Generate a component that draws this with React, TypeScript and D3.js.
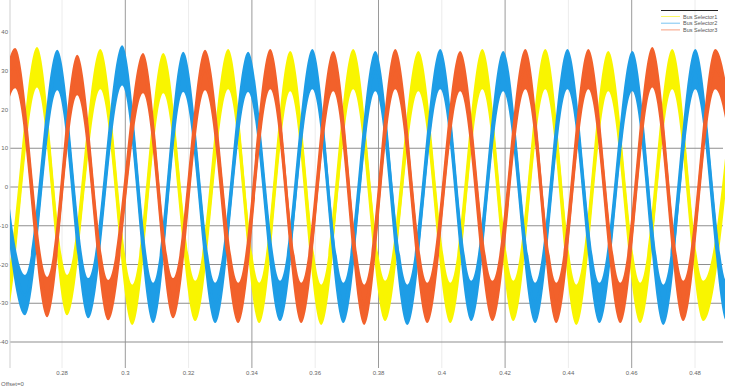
import React from "react";
import * as d3 from "d3";

const seriesNames = ["Bus Selector1", "Bus Selector2", "Bus Selector3"];
const seriesColors = ["#f9f500", "#1e9de6", "#f2612b"];

// alternating crest / trough times (s) and centre values
const yellowTimes = [0.2522, 0.2617, 0.2721, 0.2816, 0.2921, 0.3022, 0.312, 0.3221, 0.3325, 0.3423, 0.3521, 0.3619, 0.372, 0.3821, 0.3926, 0.4027, 0.4128, 0.4226, 0.4327, 0.4425, 0.4526, 0.4627, 0.4728, 0.4826, 0.4928];
const yellowValues = [30.4, -29.9, 30.9, -27.9, 30.4, -30.4, 29.4, -29.4, 30.4, -29.9, 29.9, -30.4, 30.4, -29.4, 29.9, -29.9, 30.4, -29.4, 30.4, -30.4, 29.9, -29.9, 30.4, -29.4, 30.4];
const blueTimes = [0.2585, 0.2683, 0.2785, 0.2883, 0.299, 0.3088, 0.3183, 0.3284, 0.3388, 0.3489, 0.3591, 0.3689, 0.379, 0.3891, 0.3995, 0.4093, 0.4194, 0.4295, 0.4397, 0.4498, 0.4602, 0.47, 0.4801, 0.4902, 0.5];
const blueValues = [30.4, -27.9, 30.2, -28.7, 31.4, -29.9, 29.7, -29.9, 29.7, -29.4, 30.4, -29.9, 29.9, -30.4, 30.4, -29.4, 29.9, -29.9, 30.4, -29.9, 29.9, -30.4, 30.4, -29.9, 30.4];
const orangeTimes = [0.2551, 0.2652, 0.2753, 0.2848, 0.2946, 0.3056, 0.3151, 0.3252, 0.3357, 0.3458, 0.3556, 0.3657, 0.3755, 0.3853, 0.3954, 0.4058, 0.416, 0.4264, 0.4362, 0.4463, 0.4564, 0.4665, 0.4763, 0.4864, 0.4966];
const orangeValues = [-29.9, 30.7, -28.4, 28.9, -29.2, 29.4, -28.7, 30.2, -29.9, 30.4, -29.9, 29.9, -30.4, 30.4, -29.9, 29.9, -29.4, 30.4, -29.9, 30.4, -29.9, 30.9, -29.4, 30.4, -29.9];
const rippleHalf = 5.2;

const yTicks = [40, 30, 20, 10, 0, -10, -20, -30, -40];
const yGridTicks = [10, 0, -10, -20, -30, -40];
const xTicks = [0.28, 0.3, 0.32, 0.34, 0.36, 0.38, 0.4, 0.42, 0.44, 0.46, 0.48];
const xMajorTicks = [0.3, 0.34, 0.38, 0.42, 0.46];
const xTickLabels = ["0.28", "0.3", "0.32", "0.34", "0.36", "0.38", "0.4", "0.42", "0.44", "0.46", "0.48"];

const W = 731;
const H = 389;
const left = 10;
const right = 725;
const top = 0;
const bottom = 368;

export default function App() {
  const x = d3.scaleLinear().domain([0.28, 0.48]).range([62, 695]);
  const y = d3.scaleLinear().domain([-40, 40]).range([342, 32]);

  const series = [
    { t: yellowTimes, v: yellowValues },
    { t: blueTimes, v: blueValues },
    { t: orangeTimes, v: orangeValues },
  ].map((s, i) => ({
    name: seriesNames[i],
    color: seriesColors[i],
    pts: s.t.map((t, k) => ({ t, v: s.v[k] })),
  }));

  const band = d3
    .area<{ t: number; v: number }>()
    .x((d) => x(d.t))
    .y0((d) => y(d.v - rippleHalf))
    .y1((d) => y(d.v + rippleHalf))
    .curve(d3.curveMonotoneX);
  const line = d3
    .line<{ t: number; v: number }>()
    .x((d) => x(d.t))
    .y((d) => y(d.v))
    .curve(d3.curveMonotoneX);

  const font = "Liberation Sans, Arial, sans-serif";

  return (
    <svg width={W} height={H} style={{ position: "absolute", left: 0, top: 0, background: "#fff" }}>
      <defs>
        <clipPath id="plot">
          <rect x={left} y={top} width={right - left} height={bottom - top} />
        </clipPath>
      </defs>
      {xTicks.filter((t) => !xMajorTicks.includes(t)).map((t) => (
        <line key={"m" + t} x1={x(t)} x2={x(t)} y1={top} y2={bottom} stroke="#ececec" strokeWidth={1} />
      ))}
      {xMajorTicks.map((t) => (
        <line key={"M" + t} x1={x(t)} x2={x(t)} y1={top} y2={bottom} stroke="#9a9a9a" strokeWidth={1} />
      ))}
      {yGridTicks.map((v) => (
        <line key={"h" + v} x1={left} x2={right - 2} y1={y(v)} y2={y(v)} stroke="#8f8f8f" strokeWidth={1} />
      ))}
      <line x1={left} x2={left} y1={top} y2={bottom} stroke="#cfcfcf" strokeWidth={1} />

      <g clipPath="url(#plot)">
        {series.map((s) => (
          <g key={s.name}>
            <path d={band(s.pts) || ""} fill={s.color} />
            <path d={line(s.pts) || ""} fill="none" stroke={s.color} strokeWidth={2.6} />
          </g>
        ))}
      </g>

      {yTicks.map((v) => (
        <text key={"yl" + v} x={8} y={y(v) + 2} textAnchor="end" fontSize={6} fill="#666" fontFamily={font}>
          {v}
        </text>
      ))}
      {xTicks.map((t, i) => (
        <text key={"xl" + t} x={x(t)} y={375} textAnchor="middle" fontSize={6} fill="#666" fontFamily={font}>
          {xTickLabels[i]}
        </text>
      ))}
      <text x={1} y={386} fontSize={6} fill="#666" fontFamily={font}>
        Offset=0
      </text>

      <line x1={661} x2={718} y1={10.5} y2={10.5} stroke="#222" strokeWidth={1} />
      {series.map((s, i) => (
        <g key={"lg" + s.name}>
          <line x1={661} x2={680} y1={16.5 + i * 6.7} y2={16.5 + i * 6.7} stroke={s.color} strokeWidth={1} strokeOpacity={0.6} />
          <text x={683} y={18.5 + i * 6.7} fontSize={5.5} fill="#555" fontFamily={font}>
            {s.name}
          </text>
        </g>
      ))}
    </svg>
  );
}
